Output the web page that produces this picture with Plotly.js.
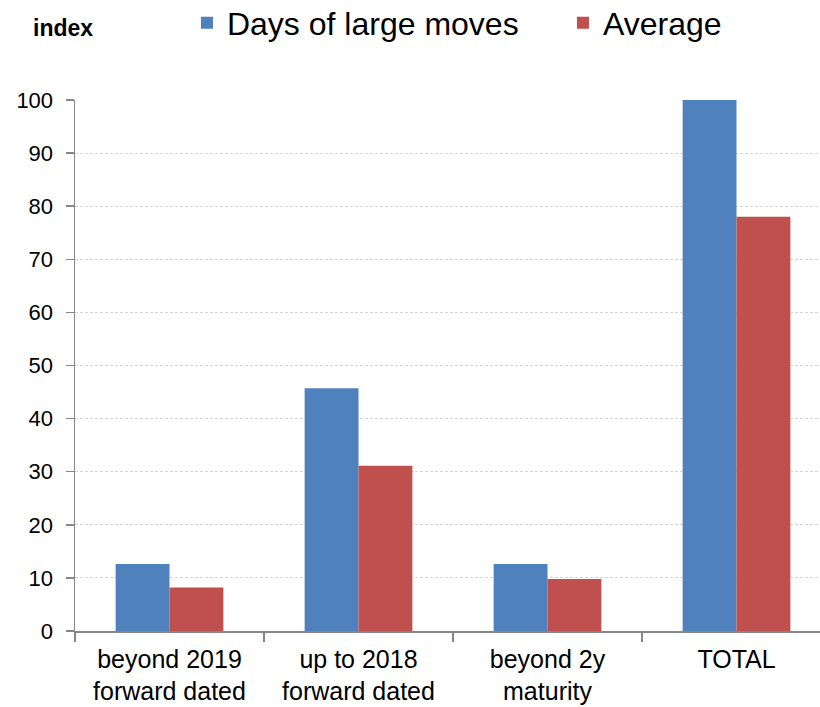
<!DOCTYPE html>
<html>
<head>
<meta charset="utf-8">
<script src="https://cdn.plot.ly/plotly-3.0.1.min.js"></script>
<style>
  html, body { margin: 0; padding: 0; overflow: hidden; background: #fff; }
  #chart { width: 840px; height: 707px; }
</style>
</head>
<body>
<div id="chart"></div>
<script>
const categories = ["beyond 2019<br>forward dated", "up to 2018<br>forward dated", "beyond 2y<br>maturity", "TOTAL"];
const daysOfLargeMoves = [12.6, 45.7, 12.6, 100];
const average = [8.2, 31.1, 9.8, 78.0];
const seriesNames = ["Days of large moves", "Average"];
const yTickValues = [0, 10, 20, 30, 40, 50, 60, 70, 80, 90, 100];

const traces = [
  { type: "bar", name: seriesNames[0], x: categories, y: daysOfLargeMoves,
    marker: { color: "#4F81BD" } },
  { type: "bar", name: seriesNames[1], x: categories, y: average,
    marker: { color: "#C0504D" } }
];

const layout = {
  width: 840, height: 707,
  margin: { l: 75, r: 9, t: 100, b: 76, autoexpand: false },
  paper_bgcolor: "#ffffff", plot_bgcolor: "#ffffff",
  font: { family: "Liberation Sans, Arial, sans-serif", color: "#000000" },
  barmode: "group",
  bargap: 0.43,
  bargroupgap: 0,
  showlegend: true,
  legend: {
    orientation: "h", xref: "paper", yref: "paper",
    x: 0.1481, xanchor: "left", y: 1.197, yanchor: "top",
    entrywidth: 331, entrywidthmode: "pixels",
    font: { family: "Liberation Sans, Arial, sans-serif", size: 32, color: "#000" },
    bgcolor: "rgba(0,0,0,0)"
  },
  xaxis: {
    type: "category",
    showline: true, linecolor: "#868686", linewidth: 1.5,
    ticks: "outside", tickson: "boundaries", ticklen: 9, tickcolor: "#868686", tickwidth: 1.5,
    ticklabelstandoff: 5,
    showgrid: false, zeroline: false,
    tickfont: { size: 25, family: "Liberation Sans, Arial, sans-serif", color: "#000" }
  },
  yaxis: {
    range: [0, 100], tickvals: yTickValues,
    showline: true, linecolor: "#868686", linewidth: 1.5,
    ticks: "outside", ticklen: 8, tickcolor: "#868686", tickwidth: 1.5,
    ticklabelstandoff: 8,
    showgrid: true, gridcolor: "#D4D4D4", griddash: "3px,2px", gridwidth: 1,
    zeroline: false,
    tickfont: { size: 22, family: "Liberation Sans, Arial, sans-serif", color: "#000" }
  },
  annotations: [
    { text: "<b>index</b>", xref: "paper", yref: "paper", x: -0.016, y: 1.135,
      xanchor: "center", yanchor: "middle", showarrow: false,
      font: { size: 23, family: "Liberation Sans, Arial, sans-serif", color: "#000" } }
  ]
};

Plotly.newPlot("chart", traces, layout, { displayModeBar: false, staticPlot: true });
</script>
</body>
</html>
